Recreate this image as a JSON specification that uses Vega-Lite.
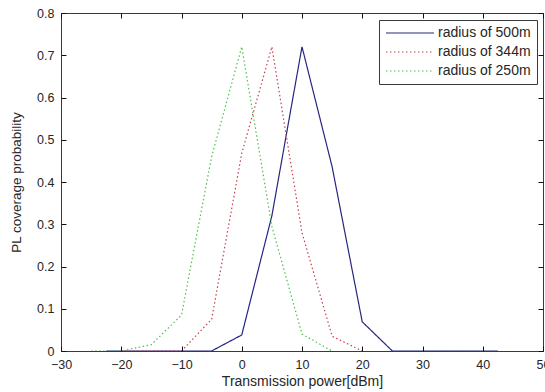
{
  "$schema": "https://vega.github.io/schema/vega-lite/v6.json",
  "autosize": "none",
  "width": 482,
  "height": 338,
  "padding": {"left": 61, "top": 13, "right": 2, "bottom": 41},
  "background": "white",
  "config": {
    "view": {"stroke": "#3a3a3a", "strokeWidth": 1},
    "font": "Liberation Sans",
    "axis": {
      "domain": false,
      "grid": false,
      "labelFont": "Liberation Sans",
      "labelFontSize": 12.5,
      "labelColor": "#262626",
      "titleFont": "Liberation Sans",
      "titleFontSize": 14,
      "titleFontWeight": "normal",
      "titleColor": "#262626"
    }
  },
  "data": {
    "values": [
      {"x": -22.5, "y": 0, "s": "radius of 500m"},
      {"x": -20, "y": 0, "s": "radius of 500m"},
      {"x": -15, "y": 0, "s": "radius of 500m"},
      {"x": -10, "y": 0, "s": "radius of 500m"},
      {"x": -5, "y": 0, "s": "radius of 500m"},
      {"x": 0, "y": 0.038, "s": "radius of 500m"},
      {"x": 5, "y": 0.32, "s": "radius of 500m"},
      {"x": 10, "y": 0.72, "s": "radius of 500m"},
      {"x": 15, "y": 0.436, "s": "radius of 500m"},
      {"x": 20, "y": 0.069, "s": "radius of 500m"},
      {"x": 25, "y": 0, "s": "radius of 500m"},
      {"x": 30, "y": 0, "s": "radius of 500m"},
      {"x": 35, "y": 0, "s": "radius of 500m"},
      {"x": 40, "y": 0, "s": "radius of 500m"},
      {"x": 42.5, "y": 0, "s": "radius of 500m"},
      {"x": -20, "y": 0, "s": "radius of 344m"},
      {"x": -15, "y": 0, "s": "radius of 344m"},
      {"x": -10, "y": 0, "s": "radius of 344m"},
      {"x": -5, "y": 0.075, "s": "radius of 344m"},
      {"x": 0, "y": 0.468, "s": "radius of 344m"},
      {"x": 5, "y": 0.72, "s": "radius of 344m"},
      {"x": 10, "y": 0.28, "s": "radius of 344m"},
      {"x": 15, "y": 0.035, "s": "radius of 344m"},
      {"x": 20, "y": 0, "s": "radius of 344m"},
      {"x": -25, "y": 0, "s": "radius of 250m"},
      {"x": -20, "y": 0, "s": "radius of 250m"},
      {"x": -15, "y": 0.015, "s": "radius of 250m"},
      {"x": -10, "y": 0.085, "s": "radius of 250m"},
      {"x": -5, "y": 0.46, "s": "radius of 250m"},
      {"x": 0, "y": 0.72, "s": "radius of 250m"},
      {"x": 5, "y": 0.295, "s": "radius of 250m"},
      {"x": 10, "y": 0.04, "s": "radius of 250m"},
      {"x": 15, "y": 0, "s": "radius of 250m"}
    ]
  },
  "layer": [
    {
      "mark": {"type": "line", "strokeWidth": 1.2, "clip": true},
      "encoding": {
        "x": {
          "field": "x", "type": "quantitative",
          "scale": {"domain": [-30, 50], "nice": false},
          "axis": {"orient": "bottom", "ticks": true, "tickSize": 5, "tickColor": "#111111", "tickWidth": 1, "offset": -5, "zindex": 1, "values": [-30, -20, -10, 0, 10, 20, 30, 40, 50], "title": "Transmission power[dBm]", "labelPadding": 7, "titlePadding": 4, "labelFlush": false, "labelOverlap": false}
        },
        "y": {
          "field": "y", "type": "quantitative",
          "scale": {"domain": [0, 0.8], "nice": false},
          "axis": {"orient": "left", "ticks": true, "tickSize": 5, "tickColor": "#111111", "tickWidth": 1, "offset": -5, "zindex": 1, "values": [0, 0.1, 0.2, 0.3, 0.4, 0.5, 0.6, 0.7, 0.8], "format": ".1~f", "title": "PL coverage probability", "labelPadding": 7, "titlePadding": 13, "titleFontSize": 13.5, "labelFlush": false, "labelOverlap": false}
        },
        "color": {
          "field": "s", "type": "nominal",
          "scale": {"domain": ["radius of 500m", "radius of 344m", "radius of 250m"], "range": ["#262680", "#c8404c", "#4cc04c"]},
          "legend": {
            "title": null,
            "orient": "none",
            "legendX": 318,
            "legendY": 7,
            "symbolType": "M-1,0L7,0",
            "symbolSize": 144,
            "symbolStrokeWidth": 1.2,
            "rowPadding": 5,
            "labelFont": "Liberation Sans",
            "labelFontSize": 14,
            "labelColor": "#262626",
            "labelOffset": 39,
            "strokeColor": "#3a3a3a",
            "fillColor": "white",
            "padding": 6
          }
        },
        "strokeDash": {
          "field": "s", "type": "nominal",
          "scale": {"domain": ["radius of 500m", "radius of 344m", "radius of 250m"], "range": [[1, 0], [1.5, 2.5], [1.5, 2.5]]},
          "legend": {
            "title": null,
            "orient": "none",
            "legendX": 318,
            "legendY": 7,
            "symbolType": "M-1,0L7,0",
            "symbolSize": 144,
            "symbolStrokeWidth": 1.2,
            "rowPadding": 5,
            "labelFont": "Liberation Sans",
            "labelFontSize": 14,
            "labelColor": "#262626",
            "labelOffset": 39,
            "strokeColor": "#3a3a3a",
            "fillColor": "white",
            "padding": 6
          }
        }
      }
    },
    {
      "mark": {"type": "line", "opacity": 0},
      "encoding": {
        "x": {
          "field": "x", "type": "quantitative",
          "axis": {"orient": "top", "ticks": true, "tickSize": 5, "tickColor": "#111111", "tickWidth": 1, "offset": -5, "zindex": 1, "values": [-30, -20, -10, 0, 10, 20, 30, 40, 50], "labels": false, "title": null}
        },
        "y": {
          "field": "y", "type": "quantitative",
          "axis": {"orient": "right", "ticks": true, "tickSize": 5, "tickColor": "#111111", "tickWidth": 1, "offset": -5, "zindex": 1, "values": [0, 0.1, 0.2, 0.3, 0.4, 0.5, 0.6, 0.7, 0.8], "labels": false, "title": null}
        },
        "detail": {"field": "s"}
      }
    }
  ],
  "resolve": {"axis": {"x": "independent", "y": "independent"}}
}
